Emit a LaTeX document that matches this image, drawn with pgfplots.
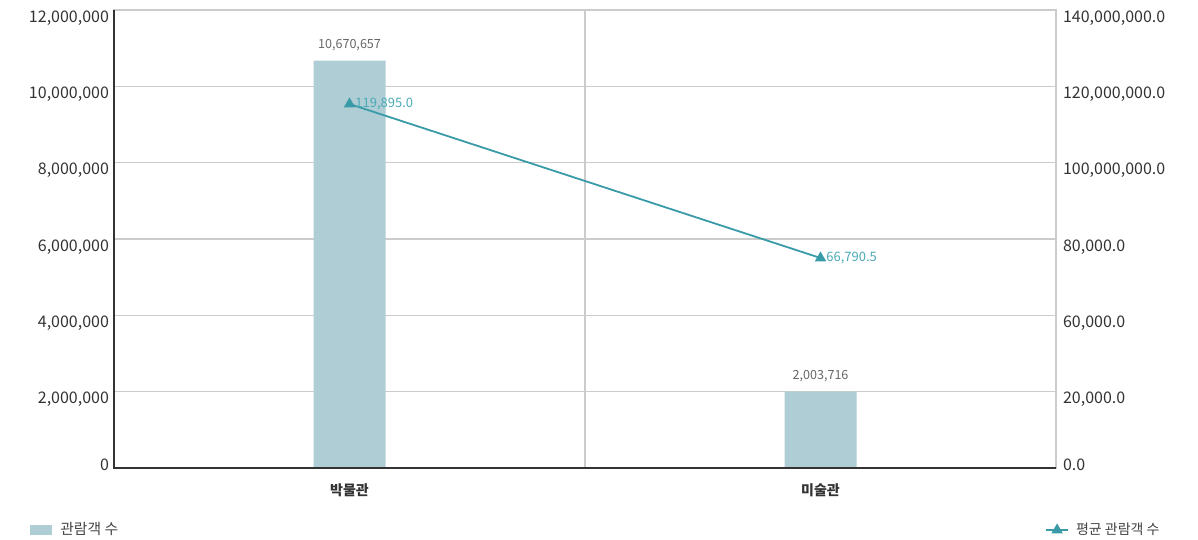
\documentclass[border=0pt]{standalone}
\usepackage{fontspec}
\setmainfont{Noto Sans CJK KR}
\usepackage{pgfplots}
\pgfplotsset{compat=1.18}

\definecolor{barc}{HTML}{AFCDD5}
\definecolor{linec}{HTML}{3A9BA8}
\definecolor{linelab}{HTML}{4AAAB6}
\definecolor{gridc}{HTML}{CCCCCC}
\definecolor{axisc}{HTML}{333333}
\definecolor{tickc}{HTML}{333333}
\definecolor{labc}{HTML}{666666}
\definecolor{legc}{HTML}{444444}

\pgfplotsset{
    barlegend/.style={legend image code/.code={\fill[barc] (0pt,-2.5pt) rectangle (11pt,2.5pt);}},
    linelegend/.style={legend image code/.code={\draw[mark repeat=2,mark phase=2,##1] plot coordinates {(0pt,0pt) (5.5pt,0pt) (11pt,0pt)};}},
}

\begin{document}
\begin{tikzpicture}
% bars: visitors (left axis)
\begin{axis}[
    name=ax,
    scale only axis, width=471pt, height=229pt,
    xmin=-0.5, xmax=1.5, ymin=0, ymax=12000000,
    xtick={0,1}, xticklabels={박물관,미술관},
    minor xtick={0.5}, xminorgrids,
    minor grid style={gridc, line width=0.8pt},
    ytick={2000000,4000000,6000000,8000000,10000000,12000000},
    extra y ticks={0}, extra y tick style={yticklabel style={yshift=5.5pt}},
    ymajorgrids, major grid style={gridc, line width=0.6pt},
    axis line style={gridc, line width=0.6pt},
    tick style={draw=none},
    scaled y ticks=false,
    yticklabel style={/pgf/number format/.cd, fixed, 1000 sep={,}, assume math mode=true,
        /tikz/.cd, font=\fontsize{8}{9}\selectfont, text=tickc, yshift=-4pt, xshift=1pt},
    xticklabel style={font=\bfseries\fontsize{7}{8}\selectfont, text=axisc, yshift=-4.5pt},
    legend style={at={(-0.0892,-0.1354)}, anchor=west, draw=none, fill=none,
        inner sep=0pt, font=\fontsize{7.4}{8}\selectfont, text=legc,
        nodes={inner xsep=4pt}},
    after end axis/.code={
        \draw[axisc, line width=1.1pt] (rel axis cs:0,1) -- (rel axis cs:0,0) -- (rel axis cs:1,0);
    },
]
\addplot[ybar, bar width=36pt, fill=barc, draw=none, barlegend,
    point meta=explicit symbolic, nodes near coords,
    nodes near coords style={font=\fontsize{6.3}{7}\selectfont, text=labc, yshift=1.5pt}]
    coordinates {(0,10670657) [10,670,657] (1,2003716) [2,003,716]};
\addlegendentry{관람객 수}
\end{axis}
% line: average visitors (right axis)
\begin{axis}[
    scale only axis, width=471pt, height=229pt,
    xmin=-0.5, xmax=1.5, ymin=-5622, ymax=152309,
    axis y line*=right, hide x axis,
    y axis line style={draw=none}, tick style={draw=none},
    scaled y ticks=false,
    ytick={20700,47022,73343,99665,125987,152309},
    yticklabels={{20,000.0},{60,000.0},{80,000.0},{100,000,000.0},{120,000,000.0},{140,000,000.0}},
    extra y ticks={-5622}, extra y tick labels={0.0},
    extra y tick style={yticklabel style={yshift=5.5pt}},
    yticklabel style={anchor=west, font=\fontsize{8}{9}\selectfont, text=tickc, yshift=-4pt, xshift=0pt},
    legend style={at={(1.1178,-0.1354)}, anchor=east, draw=none, fill=none,
        inner sep=0pt, font=\fontsize{7}{8}\selectfont, text=legc,
        nodes={inner xsep=3.5pt}},
]
\addplot[linec, line width=0.9pt, mark=triangle*, mark size=2.4pt, linelegend,
    mark options={fill=linec, draw=linec},
    point meta=explicit symbolic, nodes near coords,
    nodes near coords style={anchor=west, font=\fontsize{6.5}{7}\selectfont, text=linelab, inner sep=0.5pt, xshift=2pt}]
    coordinates {(0,119895) [119,895.0] (1,66790.5) [66,790.5]};
\addlegendentry{평균 관람객 수}
\end{axis}
\pgfresetboundingbox
\path[use as bounding box] ([shift={(-57pt,-36pt)}]ax.south west) rectangle ([shift={(542pt,234pt)}]ax.south west);
\end{tikzpicture}
\end{document}
